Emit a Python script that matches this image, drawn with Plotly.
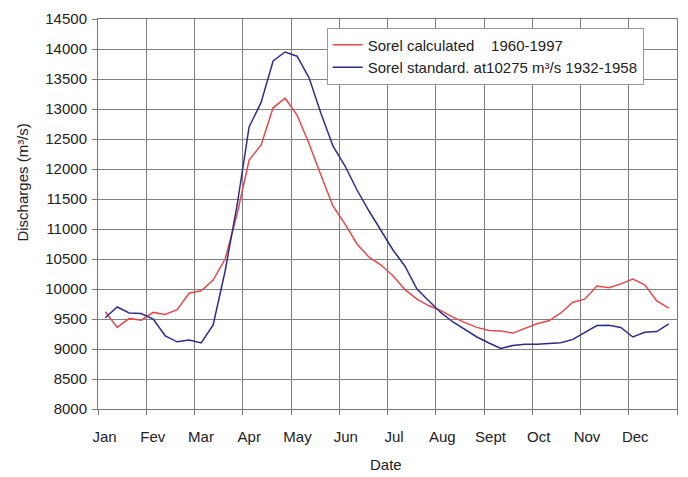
import plotly.graph_objects as go

months = ["Jan", "Fev", "Mar", "Apr", "May", "Jun", "Jul", "Aug", "Sept", "Oct", "Nov", "Dec"]

# weekly-ish points (48 per year), position in months from Jan 1
n_points = 48
week_pos = [0.15 + 0.2485 * i for i in range(n_points)]

sorel_calculated = [
    9620, 9360, 9510, 9480, 9610, 9575, 9655, 9930, 9970, 10150, 10500, 11250,
    12150, 12400, 13020, 13180, 12900, 12420, 11890, 11380, 11080, 10750, 10530, 10400,
    10220, 9990, 9830, 9720, 9640, 9530, 9440, 9360, 9310, 9300, 9265, 9340,
    9420, 9470, 9600, 9780, 9830, 10050, 10020, 10085, 10165, 10070, 9800, 9680,
]
sorel_standard = [
    9520, 9700, 9600, 9590, 9500, 9220, 9120, 9150, 9100, 9400, 10300, 11400,
    12700, 13110, 13800, 13950, 13880, 13520, 12920, 12380, 12050, 11650, 11300, 10980,
    10650, 10380, 10000, 9800, 9605, 9450, 9320, 9200, 9100, 9010, 9060, 9080,
    9080, 9090, 9105, 9160, 9270, 9390, 9395, 9360, 9200, 9280, 9290, 9420,
]

name_calc = "Sorel calculated\u00a0\u00a0\u00a0\u00a01960-1997"
name_std = "Sorel standard. at10275 m³/s 1932-1958"

FONT = "Liberation Sans, Arial, sans-serif"
GRID = "#808080"

fig = go.Figure()
fig.add_trace(go.Scatter(x=week_pos, y=sorel_calculated, mode="lines", name=name_calc,
                         legendgroup="a", line=dict(color="#e8474c", width=1.5)))
fig.add_trace(go.Scatter(x=week_pos, y=sorel_standard, mode="lines", name=name_std,
                         legendgroup="b", line=dict(color="#2c2d8c", width=1.5)))

fig.update_layout(
    width=688, height=477,
    margin=dict(l=98, r=10, t=15, b=68),
    paper_bgcolor="white", plot_bgcolor="white",
    font=dict(family=FONT, size=15, color="#222"),
    showlegend=True,
    legend=dict(
        x=0.395, y=0.978, xanchor="left", yanchor="top",
        bgcolor="white", bordercolor="#999", borderwidth=1,
        font=dict(size=15, color="#222"),
        traceorder="grouped", tracegroupgap=0,
    ),
    xaxis=dict(
        range=[0, 12],
        tickmode="array",
        tickvals=[i + 0.135 for i in range(12)],
        ticktext=months,
        showgrid=False, ticks="", zeroline=False,
        showline=True, linecolor="#777", linewidth=1, mirror=True,
        ticklabelstandoff=14,
        minor=dict(tickmode="array", tickvals=list(range(13)), showgrid=True,
                   gridcolor=GRID, gridwidth=1.2, ticks="outside", ticklen=5,
                   tickcolor="#777"),
    ),
    yaxis=dict(
        range=[8000, 14500],
        tickmode="linear", tick0=8000, dtick=500, tickformat="d",
        showgrid=True, gridcolor=GRID, gridwidth=1.2,
        ticks="outside", ticklen=5, tickcolor="#777",
        zeroline=False,
        showline=True, linecolor="#777", linewidth=1, mirror=True,
        ticklabelstandoff=2,
    ),
    annotations=[
        dict(text="Discharges (m³/s)", textangle=-90, xref="paper", yref="paper",
             x=-0.131, y=0.581, xanchor="center", yanchor="middle",
             showarrow=False, font=dict(size=15, color="#222")),
        dict(text="Date", xref="paper", yref="paper", x=0.497, y=-0.142,
             xanchor="center", yanchor="middle", showarrow=False,
             font=dict(size=15, color="#222")),
    ],
)

fig.write_html("out.html")
